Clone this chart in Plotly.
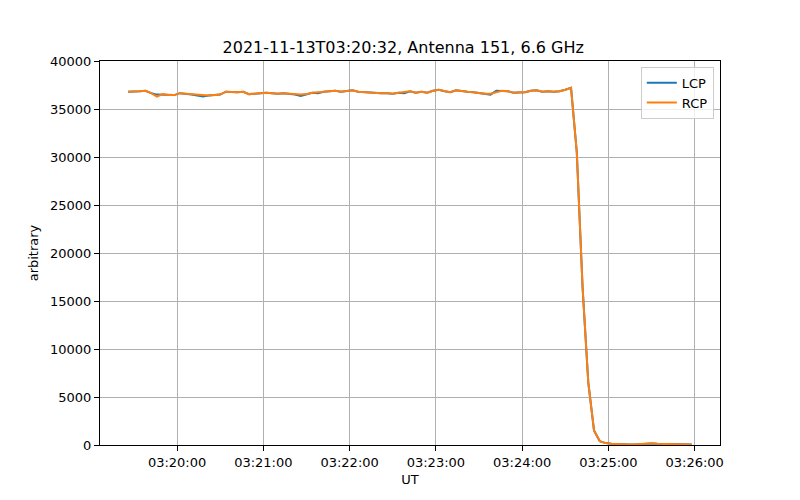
import plotly.graph_objects as go
import pandas as pd

start_time = "2021-11-13 03:19:26"
cadence_s = 4

lcp = [36800, 36800, 36850, 36900, 36650, 36500, 36500, 36450, 36450, 36650,
       36600, 36500, 36400, 36300, 36400, 36450, 36500, 36800, 36750, 36750,
       36800, 36550, 36600, 36650, 36700, 36650, 36600, 36650, 36600, 36500,
       36350, 36550, 36700, 36650, 36800, 36850, 36900, 36800, 36850, 36950,
       36800, 36750, 36700, 36700, 36650, 36650, 36600, 36700, 36650, 36850,
       36700, 36800, 36700, 36900, 37000, 36850, 36750, 36950, 36850, 36800,
       36750, 36650, 36600, 36500, 36900, 36900, 36850, 36700, 36750, 36750,
       36900, 36950, 36800, 36850, 36800, 36850, 37000, 37200, 30500, 16500,
       6500, 1500, 400, 200, 120, 80, 60, 50, 60, 100,
       120, 150, 120, 100, 80, 60, 50, 40, 60]

rcp = [36800, 36800, 36850, 36900, 36650, 36300, 36550, 36450, 36450, 36650,
       36600, 36500, 36450, 36450, 36400, 36450, 36500, 36800, 36750, 36750,
       36800, 36550, 36600, 36650, 36700, 36650, 36600, 36650, 36600, 36550,
       36500, 36550, 36700, 36750, 36800, 36850, 36900, 36800, 36850, 36950,
       36800, 36750, 36700, 36700, 36650, 36650, 36600, 36700, 36750, 36850,
       36700, 36800, 36700, 36900, 37000, 36850, 36750, 36950, 36850, 36800,
       36750, 36650, 36600, 36600, 36750, 36900, 36850, 36700, 36750, 36750,
       36900, 36950, 36800, 36850, 36800, 36850, 37000, 37200, 30500, 16500,
       6500, 1500, 400, 200, 120, 80, 60, 50, 60, 100,
       120, 170, 130, 100, 80, 60, 50, 40, 60]

times = pd.date_range(start=start_time, periods=len(lcp), freq=f"{cadence_s}s")

tick_vals = pd.date_range("2021-11-13 03:20:00", "2021-11-13 03:26:00", freq="60s")
tick_text = [t.strftime("%H:%M:%S") for t in tick_vals]
y_ticks = list(range(0, 40001, 5000))

title = "2021-11-13T03:20:32, Antenna 151, 6.6 GHz"

fig = go.Figure()
fig.add_trace(go.Scatter(x=times, y=lcp, mode="lines", name="LCP",
                         line=dict(color="#1f77b4", width=2)))
fig.add_trace(go.Scatter(x=times, y=rcp, mode="lines", name="RCP",
                         line=dict(color="#ff7f0e", width=2)))

span = (times[-1] - times[0]) * 0.05
axis_common = dict(showline=True, mirror=True, linecolor="black", linewidth=1,
                   ticks="outside", ticklen=5, tickwidth=1, tickcolor="black",
                   showgrid=True, gridcolor="#b0b0b0", gridwidth=1,
                   zeroline=False, tickfont=dict(size=13, color="black"))

fig.update_layout(
    width=800, height=500,
    paper_bgcolor="white", plot_bgcolor="white",
    font=dict(family="DejaVu Sans", color="black"),
    margin=dict(l=92, r=88, t=53, b=63),
    title=dict(text=title, x=0.494, xanchor="center", y=0.922, yanchor="middle",
               font=dict(size=16, color="black")),
    xaxis=dict(range=[times[0] - span, times[-1] + span],
               tickvals=tick_vals, ticktext=tick_text,
               title=dict(text="UT", font=dict(size=13), standoff=6),
               **axis_common),
    yaxis=dict(range=[0, 40000], tickvals=y_ticks,
               ticktext=[str(v) for v in y_ticks],
               title=dict(text="arbitrary", font=dict(size=13), standoff=8),
               **axis_common),
    legend=dict(x=0.99, y=0.985, xanchor="right", yanchor="top",
                bgcolor="rgba(255,255,255,0.8)", bordercolor="#cccccc",
                borderwidth=1, font=dict(size=13)),
    showlegend=True,
)

fig.write_html("out.html")
